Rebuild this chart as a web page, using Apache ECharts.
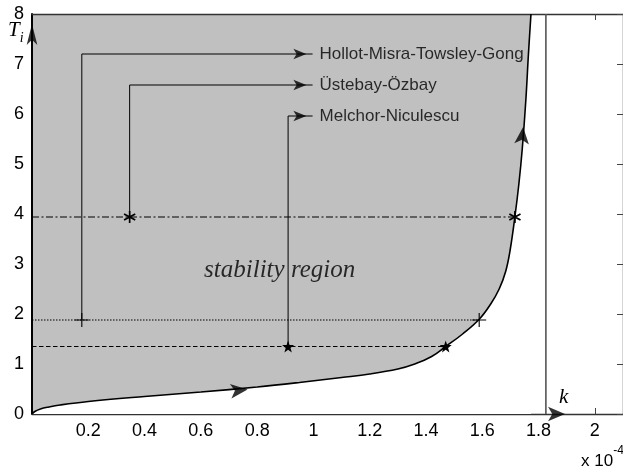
<!DOCTYPE html>
<html>
<head>
<meta charset="utf-8">
<script src="https://cdn.jsdelivr.net/npm/echarts@6/dist/echarts.min.js"></script>
<style>
  html, body { margin: 0; padding: 0; background: #fff; }
  #chart { width: 623px; height: 475px; }
</style>
</head>
<body>
<div id="chart"></div>
<script>
// Stability boundary in the (k, Ti) plane, k in units of 1e-4
const boundaryK  = [0, 0.01, 0.03, 0.06, 0.1, 0.2, 0.4, 0.6, 0.8, 0.95, 1.1, 1.2, 1.3, 1.36, 1.42, 1.47, 1.53, 1.59, 1.63, 1.66, 1.683, 1.699, 1.716, 1.73, 1.742, 1.755, 1.764, 1.773];
const boundaryTi = [0, 0.05, 0.1, 0.14, 0.18, 0.25, 0.35, 0.44, 0.54, 0.63, 0.73, 0.8, 0.9, 1.0, 1.15, 1.35, 1.6, 1.9, 2.2, 2.5, 2.85, 3.28, 3.95, 4.6, 5.3, 6.3, 7.2, 8];
const topTi = 8;

// Vertical limit line
const limitK = 1.826;

// Tuning methods: Ti level, start k (marker) and end k on the boundary
const methodNames = ['Hollot-Misra-Towsley-Gong', 'Üstebay-Özbay', 'Melchor-Niculescu'];
const methodTi     = [1.88, 3.94, 1.35];
const methodK      = [0.177, 0.347, 0.91];
const methodEdgeK  = [1.589, 1.716, 1.47];
const calloutTi    = [7.2, 6.58, 5.96];
const calloutEndK  = 0.997;
const calloutHeadK = 0.975;

// Axis ticks
const xTicks = [0.2, 0.4, 0.6, 0.8, 1, 1.2, 1.4, 1.6, 1.8, 2];
const yTicks = [0, 1, 2, 3, 4, 5, 6, 7, 8];

// Direction arrows along the boundary: [k, Ti, rotation]
const flowArrows = [[0.766, 0.49, -84], [1.745, 5.74, -5]];

const fontSans = "'Liberation Sans', Arial, sans-serif";
const fontSerif = "'Liberation Serif', 'DejaVu Serif', serif";

// Marker shapes
function barPath(angles, half, thick) {
  let d = '';
  angles.forEach(a => {
    const r = a * Math.PI / 180;
    const dx = Math.cos(r), dy = Math.sin(r);
    const nx = -dy, ny = dx;
    const p = [
      [-half * dx - thick * nx, -half * dy - thick * ny],
      [ half * dx - thick * nx,  half * dy - thick * ny],
      [ half * dx + thick * nx,  half * dy + thick * ny],
      [-half * dx + thick * nx, -half * dy + thick * ny]
    ];
    d += 'M' + p.map(q => q[0].toFixed(3) + ' ' + q[1].toFixed(3)).join(' L') + ' Z ';
  });
  return 'path://' + d;
}
function starPath() {
  const pts = [];
  for (let i = 0; i < 10; i++) {
    const r = i % 2 === 0 ? 10 : 4;
    const a = -Math.PI / 2 + i * Math.PI / 5;
    pts.push((r * Math.cos(a)).toFixed(3) + ' ' + (r * Math.sin(a)).toFixed(3));
  }
  return 'path://M' + pts.join(' L') + ' Z';
}
const asteriskSymbol = barPath([90, 30, 150], 10, 1.3);
const plusSymbol = 'path://M-0.8 -10 L0.8 -10 L0.8 -0.8 L10 -0.8 L10 0.8 L0.8 0.8 L0.8 10 L-0.8 10 L-0.8 0.8 L-10 0.8 L-10 -0.8 L-0.8 -0.8 Z';
const pentagramSymbol = starPath();

const boundary = boundaryK.map((k, i) => [k, boundaryTi[i]]);
const lastK = boundaryK[boundaryK.length - 1];

const series = [];

// Shaded stability region: grey up to the top, then the area under the boundary is cleared
series.push({
  type: 'line', data: [[0, topTi], [lastK, topTi]], showSymbol: false, silent: true, z: 0,
  lineStyle: { width: 0 },
  areaStyle: { color: '#c0c0c0', opacity: 1 }
});

// Boundary curve
series.push({
  type: 'line', data: boundary, showSymbol: false, silent: true, z: 1,
  smooth: 0.4,
  lineStyle: { color: '#000', width: 1.6 },
  areaStyle: { color: '#fff', opacity: 1 }
});

// Vertical limit
series.push({
  type: 'line', data: [[limitK, 0], [limitK, topTi]], showSymbol: false, silent: true, z: 5,
  lineStyle: { color: '#555', width: 1.6 }
});

// Horizontal Ti levels
const levelStyles = [[1.5, 1.5], [7, 2.5, 2, 2.5], [4.5, 2.5]];
methodTi.forEach((ti, i) => {
  series.push({
    type: 'line', data: [[0, ti], [methodEdgeK[i], ti]], showSymbol: false, silent: true, z: 4,
    lineStyle: { color: '#000', width: 1.1, type: levelStyles[i] }
  });
});

// Callout leaders from each tuning point towards its label
series.push({
  type: 'lines',
  coordinateSystem: 'cartesian2d',
  polyline: true,
  silent: true,
  z: 6,
  lineStyle: { color: '#000', width: 1, opacity: 1 },
  data: methodK.map((k, i) => ({
    coords: [[k, methodTi[i]], [k, calloutTi[i]], [calloutEndK, calloutTi[i]]]
  }))
});

// Callout arrowheads
series.push({
  type: 'scatter', silent: true, z: 7,
  symbol: 'arrow', symbolSize: [8, 13], symbolRotate: -90,
  itemStyle: { color: '#000' },
  data: calloutTi.map(t => [calloutHeadK, t])
});

// Callout labels
series.push({
  type: 'scatter', symbol: 'circle', symbolSize: 2, silent: true, z: 7,
  itemStyle: { color: 'rgba(0,0,0,0)' },
  data: methodNames.map((n, i) => ({ value: [calloutEndK, calloutTi[i]], name: n })),
  label: {
    show: true, position: 'right', distance: 6,
    formatter: p => p.name,
    color: '#000', fontFamily: fontSans, fontSize: 17
  }
});

// Tuning-point markers
const markerSymbols = [plusSymbol, asteriskSymbol, pentagramSymbol];
const markerSizes = [14, 12, 12];
methodTi.forEach((ti, i) => {
  series.push({
    type: 'scatter', silent: true, z: 8,
    symbol: markerSymbols[i], symbolSize: markerSizes[i],
    itemStyle: { color: '#000', opacity: 1 },
    data: [[methodK[i], ti], [methodEdgeK[i], ti]]
  });
});

// Flow direction arrows on the boundary
series.push({
  type: 'scatter', silent: true, z: 8,
  symbol: 'arrow', symbolSize: [11, 17],
  itemStyle: { color: '#000' },
  data: flowArrows.map(a => ({ value: [a[0], a[1]], symbolRotate: a[2] }))
});

// Axis arrowheads
series.push({
  type: 'scatter', silent: true, z: 9,
  symbol: 'arrow', clip: false,
  itemStyle: { color: '#000' },
  data: [
    { value: [0, 7.8], symbolSize: [8, 21], symbolRotate: 0 },
    { value: [1.894, 0], symbolSize: [11, 17], symbolRotate: -90 }
  ]
});

// Region caption
series.push({
  type: 'scatter', symbol: 'circle', symbolSize: 2, silent: true, z: 7,
  itemStyle: { color: 'rgba(0,0,0,0)' },
  data: [{ value: [0.88, 2.88], name: 'stability region' }],
  label: {
    show: true, position: 'inside', formatter: p => p.name,
    color: '#000', fontFamily: fontSerif, fontStyle: 'italic', fontSize: 25
  }
});

const chart = echarts.init(document.getElementById('chart'), null, { renderer: 'canvas' });
chart.setOption({
  animation: false,
  backgroundColor: '#fff',
  grid: { left: 32, top: 14, width: 592, height: 400, containLabel: false },
  xAxis: [
    {
      type: 'value', position: 'bottom', min: 0, max: 2.1, interval: 0.2,
      axisLine: { show: true, onZero: false, lineStyle: { color: '#333', width: 1.4 } },
      axisTick: { show: true, inside: true, length: 6, customValues: [2], lineStyle: { color: '#444' } },
      axisLabel: {
        show: true, margin: 8, color: '#000', fontFamily: fontSans, fontSize: 18,
        customValues: xTicks
      },
      splitLine: { show: false }
    },
    {
      type: 'value', position: 'top', min: 0, max: 2.1, interval: 0.2,
      axisLine: { show: true, onZero: false, lineStyle: { color: '#333', width: 1.4 } },
      axisTick: { show: true, inside: true, length: 6, customValues: [2], lineStyle: { color: '#444' } },
      axisLabel: { show: false },
      splitLine: { show: false }
    }
  ],
  yAxis: [
    {
      type: 'value', position: 'left', min: 0, max: 8, interval: 1,
      axisLine: { show: true, onZero: false, lineStyle: { color: '#000', width: 2 } },
      axisTick: { show: false },
      axisLabel: {
        show: true, margin: 8, color: '#000', fontFamily: fontSans, fontSize: 18,
        customValues: yTicks
      },
      splitLine: { show: false }
    },
    {
      type: 'value', position: 'right', min: 0, max: 8, interval: 1,
      axisLine: { show: true, onZero: false, lineStyle: { color: '#333', width: 1.4 } },
      axisTick: { show: true, inside: true, length: 6, lineStyle: { color: '#444' } },
      axisLabel: { show: false },
      splitLine: { show: false }
    }
  ],
  graphic: [
    {
      type: 'text', left: 8, top: 20, z: 10,
      style: {
        text: '{t|T}{s|i}',
        rich: {
          t: { fontFamily: fontSerif, fontStyle: 'italic', fontSize: 21, fill: '#000' },
          s: { fontFamily: fontSerif, fontStyle: 'italic', fontSize: 14, fill: '#000', padding: [16, 0, 0, 0] }
        }
      }
    },
    {
      type: 'text', left: 559, top: 387, z: 10,
      style: { text: 'k', fontFamily: fontSerif, fontStyle: 'italic', fontSize: 21, fill: '#000' }
    },
    {
      type: 'text', left: 581, top: 445, z: 10,
      style: {
        text: '{a|x 10}{b|-4}',
        rich: {
          a: { fontFamily: fontSans, fontSize: 17, fill: '#000', padding: [10, 0, 0, 0] },
          b: { fontFamily: fontSans, fontSize: 12, fill: '#000', padding: [0, 0, 10, 0] }
        }
      }
    }
  ],
  series: series
});
</script>
</body>
</html>
